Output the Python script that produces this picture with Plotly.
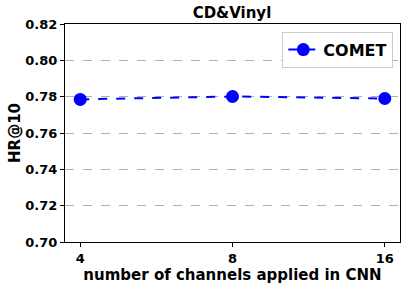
import plotly.graph_objects as go

channels = ["4", "8", "16"]
hr10 = [0.7785, 0.7801, 0.7790]
y_ticks = [0.70, 0.72, 0.74, 0.76, 0.78, 0.80, 0.82]

FONT = "DejaVu Sans"

fig = go.Figure()
fig.add_trace(go.Scatter(
    x=[0, 1, 2], y=hr10, mode="lines+markers", name="COMET",
    line=dict(color="#0000ff", width=2, dash="dash"),
    marker=dict(color="#0000ff", size=13),
))

fig.update_layout(
    width=407, height=288,
    margin=dict(l=65, r=7, t=24, b=46),
    paper_bgcolor="white", plot_bgcolor="white",
    font=dict(family=FONT, color="black", size=13, weight="bold"),
    title=dict(text="CD&Vinyl", x=0.57, xanchor="center", y=0.955, yanchor="middle",
               font=dict(family=FONT, size=15, weight="bold")),
    showlegend=True,
    legend=dict(x=0.98, y=0.965, xanchor="right", yanchor="top",
                bordercolor="#cccccc", borderwidth=1, bgcolor="white",
                font=dict(family=FONT, size=16, weight="bold")),
    xaxis=dict(
        range=[-0.1, 2.1], tickmode="array", tickvals=[0, 1, 2], ticktext=channels,
        showgrid=False, zeroline=False, showline=True, linecolor="black", linewidth=1,
        mirror=True, ticks="outside", ticklen=4, tickcolor="black",
        title=dict(text="number of channels applied in CNN", standoff=4,
                   font=dict(family=FONT, size=15, weight="bold")),
    ),
    yaxis=dict(
        range=[0.70, 0.82], tickmode="array", tickvals=y_ticks,
        ticktext=[f"{v:.2f}" for v in y_ticks],
        showgrid=True, gridcolor="#b0b0b0", griddash="dash", gridwidth=1,
        zeroline=False, showline=True, linecolor="black", linewidth=1,
        mirror=True, ticks="outside", ticklen=4, tickcolor="black",
        title=dict(text="HR@10", standoff=1,
                   font=dict(family=FONT, size=15, weight="bold")),
    ),
)

fig.write_html("out.html", config={"displayModeBar": False},
               post_script="document.body.style.margin='0';")
